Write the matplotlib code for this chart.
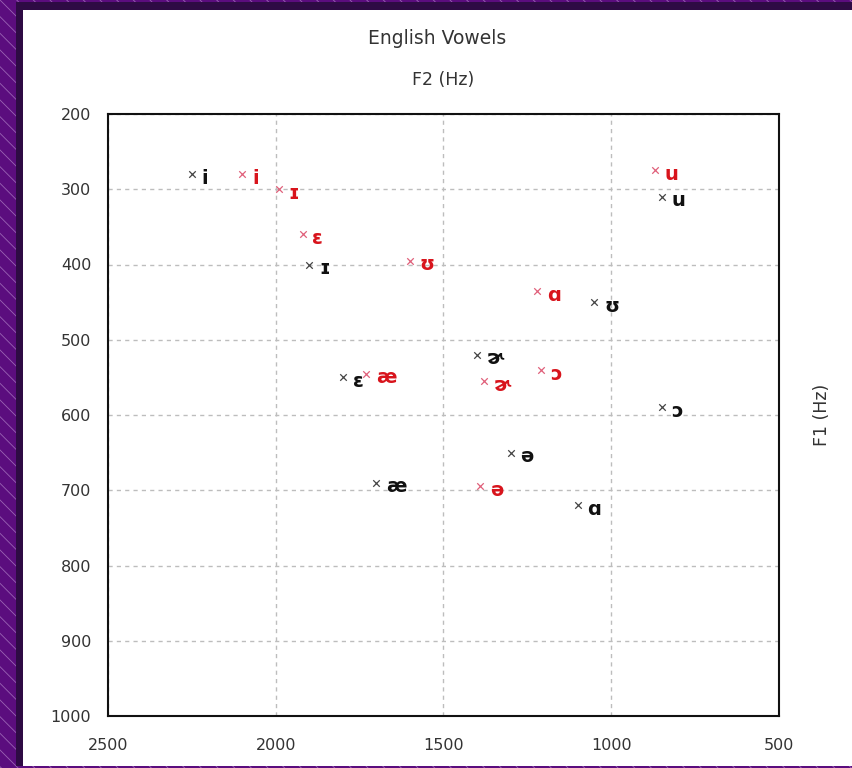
import matplotlib
matplotlib.use("Agg")
from matplotlib import pyplot as plt
from matplotlib.patches import Rectangle

# vowel symbols, same order for both speakers
vowels = ['i', 'ɪ', 'ɛ', 'æ', 'ɑ', 'ɔ', 'ʊ', 'u', 'ɚ', 'ə']

# first set (black)
f1_black = [280, 400, 550, 690, 720, 590, 450, 310, 520, 650]
f2_black = [2250, 1900, 1800, 1700, 1100, 850, 1050, 850, 1400, 1300]

# second set (red)
f1_red = [280, 300, 360, 545, 435, 540, 395, 275, 555, 695]
f2_red = [2100, 1990, 1920, 1730, 1220, 1210, 1600, 870, 1380, 1390]

x_ticks = [2500, 2000, 1500, 1000, 500]
y_ticks = [200, 300, 400, 500, 600, 700, 800, 900, 1000]

plt.rcParams['hatch.linewidth'] = 0.6

W, H = 853, 768
fig = plt.figure(figsize=(W / 100, H / 100), dpi=100)

# purple hatched backdrop with a white card on top
fig.patches.append(Rectangle((0, 0), 1, 1, transform=fig.transFigure,
                             facecolor='#5b0d7e', edgecolor='#9a64b4',
                             hatch='\\\\', linewidth=0, zorder=-3))
fig.patches.append(Rectangle((16 / W, 2 / H), 1 - 16 / W, 764 / H,
                             transform=fig.transFigure, facecolor='#2e0b44',
                             linewidth=0, zorder=-2))
fig.patches.append(Rectangle((23 / W, 2 / H), 1 - 23 / W, 756 / H,
                             transform=fig.transFigure, facecolor='white',
                             linewidth=0, zorder=-1))

ax = fig.add_axes([108 / W, 1 - 716 / H, (779 - 108) / W, (716 - 114) / H])
ax.set_xlim(2500, 500)
ax.set_ylim(1000, 200)
ax.set_xticks(x_ticks)
ax.set_yticks(y_ticks)
ax.tick_params(length=0, labelsize=11.5, labelcolor='#333333')
ax.tick_params(axis='x', pad=16)
ax.tick_params(axis='y', pad=12)
ax.grid(True, color='#bdbdbd', linestyle=(0, (3, 3)), linewidth=1)
for s in ax.spines.values():
    s.set_linewidth(1.5)
    s.set_color('#111111')

ax.scatter(f2_black, f1_black, marker='x', s=22, color='#444444', linewidths=0.9, zorder=3)
ax.scatter(f2_red, f1_red, marker='x', s=22, color='#e0607a', linewidths=0.9, zorder=3)

for v, x, y in zip(vowels, f2_black, f1_black):
    ax.annotate(v, (x, y), xytext=(7, -3), textcoords='offset points',
                ha='left', va='center', fontsize=14, fontweight='bold', color='#111111')
for v, x, y in zip(vowels, f2_red, f1_red):
    ax.annotate(v, (x, y), xytext=(7, -3), textcoords='offset points',
                ha='left', va='center', fontsize=14, fontweight='bold', color='#d8141c')

fig.text(437 / W, 1 - 38 / H, 'English Vowels', ha='center', va='center',
         fontsize=13.5, color='#333333')
fig.text(443 / W, 1 - 80 / H, 'F2 (Hz)', ha='center', va='center',
         fontsize=12.5, color='#333333')
fig.text(822 / W, 1 - 415 / H, 'F1 (Hz)', ha='center', va='center',
         rotation=90, fontsize=12.5, color='#333333')

fig.savefig('out.png', dpi=100)
